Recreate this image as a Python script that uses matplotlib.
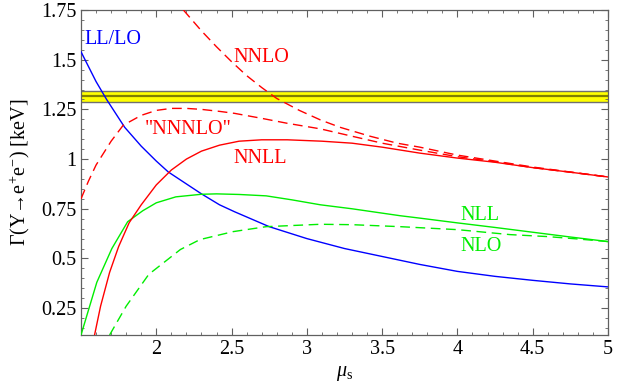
import matplotlib
matplotlib.use("Agg")
import matplotlib.pyplot as plt
from matplotlib.ticker import FixedLocator, MultipleLocator

plt.rcParams['font.family'] = ['Liberation Serif', 'DejaVu Serif']
plt.rcParams['mathtext.fontset'] = 'custom'
plt.rcParams['mathtext.rm'] = 'Liberation Serif'
plt.rcParams['mathtext.it'] = 'Liberation Serif:italic'

# data (mu_s, Gamma in keV)
mu_lo = [1.5, 1.6, 1.67, 1.79, 1.9, 2.0, 2.08, 2.2, 2.3, 2.42, 2.52, 2.75, 3.0, 3.25, 3.5, 3.75, 4.0, 4.25, 4.5, 4.75, 5.0]
g_lo = [1.54, 1.39, 1.30, 1.16, 1.065, 0.99, 0.935, 0.875, 0.825, 0.77, 0.735, 0.66, 0.60, 0.55, 0.51, 0.47, 0.435, 0.41, 0.39, 0.372, 0.357]

mu_nll = [1.5, 1.605, 1.705, 1.81, 1.91, 2.0, 2.13, 2.3, 2.4, 2.55, 2.73, 2.9, 3.09, 3.3, 3.62, 3.75, 4.0, 4.25, 4.5, 4.75, 5.0]
g_nll = [0.115, 0.38, 0.55, 0.685, 0.74, 0.78, 0.81, 0.823, 0.825, 0.822, 0.815, 0.795, 0.77, 0.75, 0.715, 0.703, 0.679, 0.656, 0.632, 0.608, 0.585]

mu_nlo = [1.69, 1.8, 1.95, 2.16, 2.29, 2.51, 2.73, 3.09, 3.3, 3.62, 4.0, 4.35, 4.6, 4.8, 5.0]
g_nlo = [0.115, 0.26, 0.42, 0.545, 0.595, 0.635, 0.66, 0.672, 0.67, 0.66, 0.645, 0.62, 0.61, 0.598, 0.585]

mu_nnll = [1.59, 1.63, 1.69, 1.75, 1.82, 1.9, 2.0, 2.1, 2.2, 2.3, 2.42, 2.55, 2.7, 2.87, 3.1, 3.3, 3.5, 3.75, 4.0, 4.25, 4.5, 4.75, 5.0]
g_nnll = [0.115, 0.26, 0.43, 0.56, 0.68, 0.77, 0.87, 0.945, 1.0, 1.04, 1.07, 1.09, 1.097, 1.097, 1.09, 1.08, 1.06, 1.03, 1.005, 0.984, 0.957, 0.934, 0.91]

mu_nnlo = [2.18, 2.3, 2.4, 2.5, 2.6, 2.7, 2.8, 2.95, 3.09, 3.22, 3.42, 3.6, 3.75, 4.0, 4.25, 4.5, 4.75, 5.0]
g_nnlo = [1.75, 1.645, 1.565, 1.49, 1.42, 1.36, 1.305, 1.245, 1.197, 1.16, 1.115, 1.08, 1.06, 1.02, 0.99, 0.96, 0.935, 0.91]

mu_n3lo = [1.5, 1.55, 1.6, 1.7, 1.78, 1.9, 2.0, 2.1, 2.2, 2.3, 2.42, 2.52, 2.7, 2.87, 3.09, 3.3, 3.5, 3.75, 4.0, 4.25, 4.5, 4.75, 5.0]
g_n3lo = [0.80, 0.89, 0.97, 1.09, 1.17, 1.22, 1.245, 1.255, 1.255, 1.25, 1.24, 1.23, 1.205, 1.18, 1.152, 1.115, 1.08, 1.045, 1.012, 0.986, 0.957, 0.934, 0.91]

# experimental value with error band
g_exp = 1.315
g_err = 0.028

yticks = [0.25, 0.5, 0.75, 1.0, 1.25, 1.5, 1.75]
ytick_labels = ['0.25', '0.5', '0.75', '1', '1.25', '1.5', '1.75']
xticks = [2, 2.5, 3, 3.5, 4, 4.5, 5]
xtick_labels = ['2', '2.5', '3', '3.5', '4', '4.5', '5']

fig = plt.figure(figsize=(6.24, 3.86), dpi=100)
ax = fig.add_axes([81 / 624, 1 - 335 / 386, (608 - 81) / 624, (335 - 10) / 386])

# band
ax.axhspan(g_exp - g_err, g_exp + g_err, color='#ffff00', lw=0, zorder=1)
ax.axhline(g_exp + g_err, color='#707070', lw=1.0, zorder=2)
ax.axhline(g_exp - g_err, color='#707070', lw=1.0, zorder=2)
ax.axhline(g_exp, color='#808000', lw=1.6, zorder=2)

dash = (7, 4)
ax.plot(mu_lo, g_lo, color='#0000ff', lw=1.0, zorder=3)
ax.plot(mu_nll, g_nll, color='#00ee00', lw=1.0, zorder=3)
ax.plot(mu_nlo, g_nlo, color='#00ee00', lw=1.0, dashes=dash, zorder=3)
ax.plot(mu_nnll, g_nnll, color='#ff0000', lw=1.0, zorder=3)
ax.plot(mu_nnlo, g_nnlo, color='#ff0000', lw=1.0, dashes=dash, zorder=3)
ax.plot(mu_n3lo, g_n3lo, color='#ff0000', lw=1.0, dashes=dash, zorder=3)

fs = 14.5
ax.text(1.71, 1.60, 'LL/LO', color='#0000ff', fontsize=fs, ha='center', va='center')
ax.text(2.70, 1.51, 'NNLO', color='#ff0000', fontsize=fs, ha='center', va='center')
ax.text(2.21, 1.15, '"NNNLO"', color='#ff0000', fontsize=fs, ha='center', va='center')
ax.text(2.69, 1.005, 'NNLL', color='#ff0000', fontsize=fs, ha='center', va='center')
ax.text(4.15, 0.715, 'NLL', color='#00ee00', fontsize=fs, ha='center', va='center')
ax.text(4.16, 0.56, 'NLO', color='#00ee00', fontsize=fs, ha='center', va='center')

ax.set_xlim(1.5, 5)
ax.set_ylim(0.115, 1.75)
ax.xaxis.set_major_locator(FixedLocator(xticks))
ax.set_xticklabels(xtick_labels)
ax.xaxis.set_minor_locator(MultipleLocator(0.1))
ax.yaxis.set_major_locator(FixedLocator(yticks))
ax.set_yticklabels(ytick_labels)
ax.yaxis.set_minor_locator(MultipleLocator(0.05))
ax.tick_params(which='both', direction='in', top=True, right=True, colors='#606060', labelcolor='black', labelsize=fs)
ax.tick_params(which='major', length=5, width=0.8)
ax.tick_params(which='minor', length=2.5, width=0.6)
for s in ax.spines.values():
    s.set_color('#606060')
    s.set_linewidth(0.9)

ax.set_xlabel(r'$\mu_{\mathrm{s}}$', fontsize=fs, labelpad=4)
ax.set_ylabel('Γ(Υ→e$^{+}$e$^{-}$) [keV]', fontsize=fs, labelpad=6)

fig.savefig('out.png', dpi=100)
